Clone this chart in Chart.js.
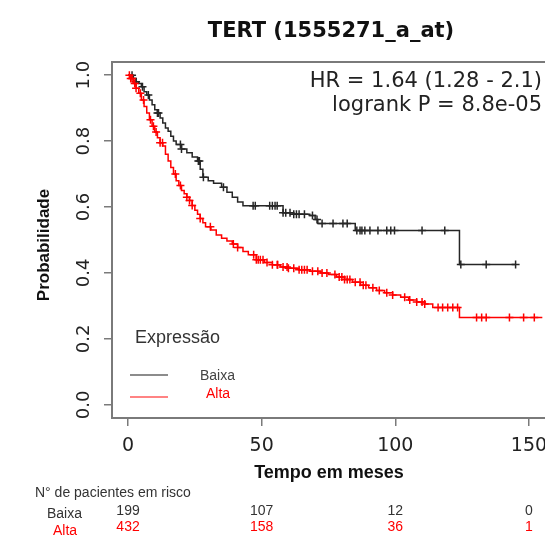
<!DOCTYPE html>
<html>
<head>
<meta charset="utf-8">
<script src="https://cdn.jsdelivr.net/npm/chart.js@4"></script>
<style>
  html, body { margin: 0; padding: 0; background: #fff; overflow: hidden; }
  canvas { display: block; }
</style>
</head>
<body>
<canvas id="kmChart" width="545" height="536"></canvas>
<script>
// Kaplan-Meier steps (months, survival)
const timesBaixa = [0, 2, 3, 4, 5, 6, 7, 8, 9, 10, 11, 12, 13, 14, 15, 16, 17, 18, 20, 22, 24, 26, 27, 28, 30, 32, 35, 37, 39, 41, 43, 58, 62, 68, 70, 71, 85, 124, 145];
const survBaixa = [1.0, 0.99, 0.98, 0.975, 0.965, 0.95, 0.94, 0.925, 0.91, 0.895, 0.885, 0.87, 0.855, 0.84, 0.83, 0.815, 0.80, 0.79, 0.776, 0.765, 0.752, 0.74, 0.715, 0.69, 0.68, 0.672, 0.66, 0.645, 0.63, 0.615, 0.604, 0.583, 0.578, 0.574, 0.562, 0.55, 0.529, 0.426, 0.426];

const timesAlta = [0, 1, 2, 3, 4, 5, 6, 7, 8, 9, 10, 11, 12, 13, 14, 15, 16, 17, 18, 19, 20, 21, 22, 23, 24, 25, 26, 27, 28, 29, 31, 33, 35, 37, 39, 41, 43, 45, 48, 51, 54, 57, 60, 64, 68, 72, 75, 78, 81, 84, 87, 90, 93, 96, 99, 102, 105, 108, 111, 114, 124, 155];
const survAlta = [1.0, 0.99, 0.975, 0.96, 0.945, 0.925, 0.905, 0.885, 0.865, 0.845, 0.828, 0.81, 0.795, 0.785, 0.76, 0.74, 0.72, 0.70, 0.68, 0.665, 0.65, 0.64, 0.63, 0.62, 0.605, 0.59, 0.578, 0.565, 0.552, 0.54, 0.53, 0.515, 0.505, 0.497, 0.488, 0.477, 0.465, 0.455, 0.44, 0.432, 0.425, 0.418, 0.414, 0.41, 0.405, 0.40, 0.395, 0.388, 0.38, 0.372, 0.363, 0.355, 0.347, 0.34, 0.333, 0.326, 0.318, 0.312, 0.306, 0.295, 0.265, 0.265];

// censored times (the + marks)
const censorBaixa = [1.5, 3, 5.4, 7.6, 11, 11.4, 19.6, 20, 26.3, 26.7, 28.2, 35.7, 46.8, 47.6, 53, 54, 55, 55.8, 58, 59, 60.6, 62, 63, 64, 66, 69, 70.7, 72.6, 76.7, 80.4, 82, 85.6, 86.8, 87.5, 88.6, 90.5, 93.5, 96.8, 98.3, 99.7, 110, 118.5, 124.5, 134, 145];
const censorAlta = [0.5, 1, 1.5, 2.5, 3, 4.6, 5.8, 8.4, 9.5, 10.5, 12, 12.9, 17.7, 19.6, 22, 23, 24, 27, 30.8, 39.4, 41, 47, 48, 48.7, 49.5, 50.5, 52, 54, 55.8, 56, 58, 59.5, 60, 62, 64, 65, 66, 67, 69, 71, 72.6, 74.4, 77.4, 79, 80, 81, 82, 83, 85, 86.8, 88, 89, 91.6, 94, 96.8, 99, 103.5, 105.4, 108, 110, 111, 116, 117.7, 119.6, 121.5, 123.3, 130.4, 132.3, 134, 142.7, 148, 152];

// at-risk table
const riskTimes = [0, 50, 100, 150];
const riskBaixa = [199, 107, 12, 0];
const riskAlta = [432, 158, 36, 1];

const xTicks = [0, 50, 100, 150];
const yTicks = [0, 0.2, 0.4, 0.6, 0.8, 1.0];
const yTickLabels = ['0.0', '0.2', '0.4', '0.6', '0.8', '1.0'];

const BLACK = '#262626';
const RED = '#ff0000';

function survivalAt(times, surv, t) {
  let s = surv[0];
  for (let i = 0; i < times.length; i++) {
    if (times[i] <= t) s = surv[i];
  }
  return s;
}

const stepPoints = (times, surv) => times.map((t, i) => ({ x: t, y: surv[i] }));
const censorPoints = (cens, times, surv) => cens.map(t => ({ x: t, y: survivalAt(times, surv, t) }));

const decor = {
  id: 'decor',
  afterDraw(chart) {
    const ctx = chart.ctx;
    const area = chart.chartArea;
    const xs = chart.scales.x;
    const ys = chart.scales.y;
    ctx.save();

    // plot frame (right side is off the picture)
    ctx.strokeStyle = '#7a7a7a';
    ctx.lineWidth = 2;
    ctx.beginPath();
    ctx.moveTo(area.right + 4, area.top);
    ctx.lineTo(area.left, area.top);
    ctx.lineTo(area.left, area.bottom);
    ctx.lineTo(area.right + 4, area.bottom);
    ctx.stroke();

    // title
    ctx.fillStyle = '#111';
    ctx.font = 'bold 21px "DejaVu Sans"';
    ctx.textAlign = 'center';
    ctx.textBaseline = 'alphabetic';
    ctx.fillText('TERT (1555271_a_at)', 331, 37);

    // HR / logrank
    ctx.font = '21px "DejaVu Sans"';
    ctx.fillStyle = '#222';
    ctx.textAlign = 'right';
    ctx.fillText('HR = 1.64 (1.28 - 2.1)', 542, 87);
    ctx.fillText('logrank P = 8.8e-05', 542, 111);

    // x tick labels
    ctx.font = '19px "DejaVu Sans"';
    ctx.textAlign = 'center';
    xTicks.forEach(v => ctx.fillText(String(v), xs.getPixelForValue(v), 451));

    // y tick labels (rotated)
    ctx.font = '18px "DejaVu Sans"';
    yTicks.forEach((v, i) => {
      ctx.save();
      ctx.translate(84, ys.getPixelForValue(v));
      ctx.rotate(-Math.PI / 2);
      ctx.textAlign = 'center';
      ctx.textBaseline = 'middle';
      ctx.fillText(yTickLabels[i], 0, 0);
      ctx.restore();
    });

    // axis titles
    ctx.fillStyle = '#111';
    ctx.font = 'bold 17px "Liberation Sans"';
    ctx.save();
    ctx.translate(44, 245);
    ctx.rotate(-Math.PI / 2);
    ctx.textAlign = 'center';
    ctx.textBaseline = 'middle';
    ctx.fillText('Probabilidade', 0, 0);
    ctx.restore();

    ctx.font = 'bold 18px "Liberation Sans"';
    ctx.textAlign = 'center';
    ctx.fillText('Tempo em meses', 329, 478);

    // legend
    ctx.textAlign = 'left';
    ctx.font = '18px "Liberation Sans"';
    ctx.fillStyle = '#333';
    ctx.fillText('Expressão', 135, 343);
    ctx.lineWidth = 1.5;
    ctx.strokeStyle = '#666';
    ctx.beginPath();
    ctx.moveTo(130, 375);
    ctx.lineTo(168, 375);
    ctx.stroke();
    ctx.strokeStyle = '#ff5a5a';
    ctx.beginPath();
    ctx.moveTo(130, 397);
    ctx.lineTo(168, 397);
    ctx.stroke();
    ctx.font = '14px "Liberation Sans"';
    ctx.fillStyle = '#444';
    ctx.fillText('Baixa', 200, 380);
    ctx.fillStyle = RED;
    ctx.fillText('Alta', 206, 398);

    // at-risk table
    ctx.fillStyle = '#333';
    ctx.font = '14px "Liberation Sans"';
    ctx.fillText('N\u00b0 de pacientes em risco', 35, 497);
    ctx.fillText('Baixa', 47, 518);
    ctx.fillStyle = RED;
    ctx.fillText('Alta', 53, 535);
    ctx.textAlign = 'center';
    riskTimes.forEach((t, i) => {
      const px = xs.getPixelForValue(t);
      ctx.fillStyle = '#333';
      ctx.fillText(String(riskBaixa[i]), px, 515);
      ctx.fillStyle = RED;
      ctx.fillText(String(riskAlta[i]), px, 531);
    });

    ctx.restore();
  }
};

new Chart(document.getElementById('kmChart'), {
  type: 'line',
  data: {
    datasets: [
      {
        label: 'Alta',
        data: stepPoints(timesAlta, survAlta),
        stepped: true,
        borderColor: RED,
        borderWidth: 1.5,
        pointRadius: 0
      },
      {
        label: 'Alta censor',
        type: 'scatter',
        data: censorPoints(censorAlta, timesAlta, survAlta),
        pointStyle: 'cross',
        pointRadius: 4,
        borderColor: RED,
        borderWidth: 1.5,
        showLine: false
      },
      {
        label: 'Baixa',
        data: stepPoints(timesBaixa, survBaixa),
        stepped: true,
        borderColor: BLACK,
        borderWidth: 1.5,
        pointRadius: 0
      },
      {
        label: 'Baixa censor',
        type: 'scatter',
        data: censorPoints(censorBaixa, timesBaixa, survBaixa),
        pointStyle: 'cross',
        pointRadius: 4,
        borderColor: BLACK,
        borderWidth: 1.5,
        showLine: false
      }
    ]
  },
  options: {
    responsive: false,
    animation: false,
    devicePixelRatio: 1,
    layout: { autoPadding: false, padding: { top: 62, left: 0, right: 0, bottom: 78 } },
    plugins: {
      legend: { display: false },
      tooltip: { enabled: false }
    },
    scales: {
      x: {
        type: 'linear',
        min: -6,
        max: 156,
        afterBuildTicks: scale => { scale.ticks = xTicks.map(v => ({ value: v })); },
        afterFit: scale => { scale.height = 40; },
        ticks: { display: false },
        grid: { drawOnChartArea: false, drawTicks: true, tickLength: 8, color: '#7a7a7a', lineWidth: 1.5 },
        border: { display: false }
      },
      y: {
        type: 'linear',
        min: -0.04,
        max: 1.04,
        afterBuildTicks: scale => { scale.ticks = yTicks.map(v => ({ value: v })); },
        afterFit: scale => { scale.width = 112; },
        ticks: { display: false },
        grid: { drawOnChartArea: false, drawTicks: true, tickLength: 8, color: '#7a7a7a', lineWidth: 1.5 },
        border: { display: false }
      }
    }
  },
  plugins: [decor]
});
</script>
</body>
</html>
